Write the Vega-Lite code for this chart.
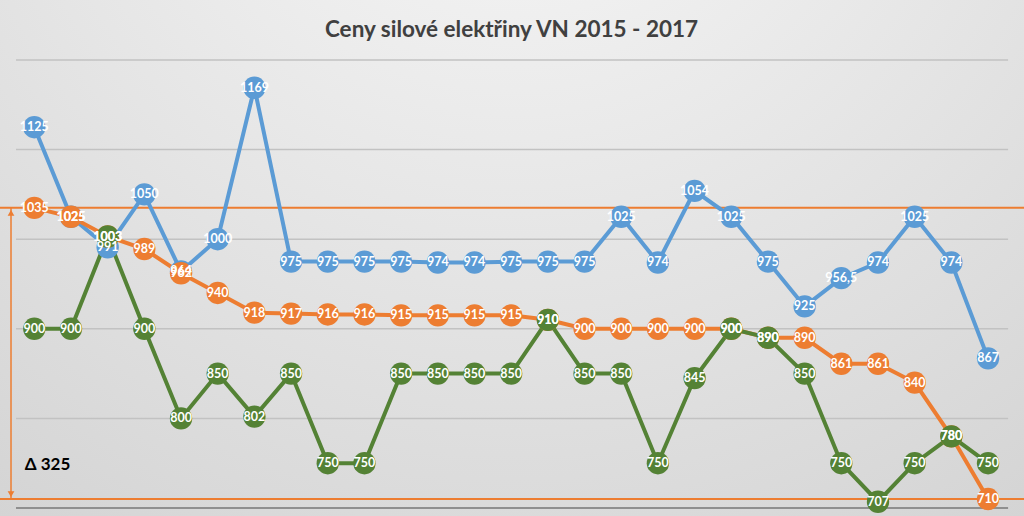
{
  "$schema": "https://vega.github.io/schema/vega-lite/v6.json",
  "autosize": "none",
  "width": 1024,
  "height": 516,
  "padding": 0,
  "background": "#e4e4e4",
  "config": {
    "view": {"stroke": null},
    "locale": {"number": {"decimal": ",", "thousands": " ", "grouping": [3], "currency": ["", " Kč"]}}
  },
  "datasets": {
    "prices": [
      {"i": 0, "blue": 1125, "orange": 1035, "green": 900},
      {"i": 1, "blue": 1025, "orange": 1025, "green": 900},
      {"i": 2, "blue": 991, "orange": 1003, "green": 1003},
      {"i": 3, "blue": 1050, "orange": 989, "green": 900},
      {"i": 4, "blue": 964, "orange": 962, "green": 800},
      {"i": 5, "blue": 1000, "orange": 940, "green": 850},
      {"i": 6, "blue": 1169, "orange": 918, "green": 802},
      {"i": 7, "blue": 975, "orange": 917, "green": 850},
      {"i": 8, "blue": 975, "orange": 916, "green": 750},
      {"i": 9, "blue": 975, "orange": 916, "green": 750},
      {"i": 10, "blue": 975, "orange": 915, "green": 850},
      {"i": 11, "blue": 974, "orange": 915, "green": 850},
      {"i": 12, "blue": 974, "orange": 915, "green": 850},
      {"i": 13, "blue": 975, "orange": 915, "green": 850},
      {"i": 14, "blue": 975, "orange": 910, "green": 910},
      {"i": 15, "blue": 975, "orange": 900, "green": 850},
      {"i": 16, "blue": 1025, "orange": 900, "green": 850},
      {"i": 17, "blue": 974, "orange": 900, "green": 750},
      {"i": 18, "blue": 1054, "orange": 900, "green": 845},
      {"i": 19, "blue": 1025, "orange": 900, "green": 900},
      {"i": 20, "blue": 975, "orange": 890, "green": 890},
      {"i": 21, "blue": 925, "orange": 890, "green": 850},
      {"i": 22, "blue": 956.5, "orange": 861, "green": 750},
      {"i": 23, "blue": 974, "orange": 861, "green": 707},
      {"i": 24, "blue": 1025, "orange": 840, "green": 750},
      {"i": 25, "blue": 974, "orange": 780, "green": 780},
      {"i": 26, "blue": 867, "orange": 710, "green": 750}
    ],
    "grid": [{"g": 800}, {"g": 900}, {"g": 1000}, {"g": 1100}, {"g": 1200}],
    "base": [{"g": 700}],
    "refs": [{"r": 1035}, {"r": 710}],
    "delta": [{"top": 1035, "bottom": 710, "label": "Δ 325"}],
    "title": [{"t": "Ceny silové elektřiny VN 2015 - 2017"}]
  },
  "layer": [
    {
      "data": {"values": [{"a": 1}]},
      "mark": {
        "type": "rect",
        "color": {
          "gradient": "radial",
          "x1": 0.5, "y1": 0, "r1": 0,
          "x2": 0.5, "y2": 0, "r2": 1,
          "stops": [
            {"offset": 0, "color": "#fafafa"},
            {"offset": 0.55, "color": "#e3e3e3"},
            {"offset": 1, "color": "#d0d0d0"}
          ]
        }
      },
      "encoding": {
        "x": {"datum": -0.935, "type": "quantitative", "scale": {"domain": [-0.935, 26.98], "nice": false, "zero": false}, "axis": null},
        "x2": {"datum": 26.98},
        "y": {"datum": 691.07, "type": "quantitative", "scale": {"domain": [691.07, 1266.96], "nice": false, "zero": false}, "axis": null},
        "y2": {"datum": 1266.96}
      }
    },
    {
      "data": {"name": "grid"},
      "mark": {"type": "rule", "color": "#c2c2c2", "strokeWidth": 1.5},
      "encoding": {
        "x": {"datum": -0.499, "type": "quantitative"},
        "x2": {"datum": 26.546},
        "y": {"field": "g", "type": "quantitative"}
      }
    },
    {
      "data": {"name": "base"},
      "mark": {"type": "rule", "color": "#8f8f8f", "strokeWidth": 2},
      "encoding": {
        "x": {"datum": -0.499, "type": "quantitative"},
        "x2": {"datum": 26.546},
        "y": {"field": "g", "type": "quantitative"}
      }
    },
    {
      "data": {"name": "refs"},
      "mark": {"type": "rule", "color": "#ed7d31", "strokeWidth": 2},
      "encoding": {
        "y": {"field": "r", "type": "quantitative"}
      }
    },
    {
      "data": {"name": "delta"},
      "mark": {"type": "rule", "color": "#ed7d31", "strokeWidth": 1.5},
      "encoding": {
        "x": {"datum": -0.635, "type": "quantitative"},
        "y": {"field": "top", "type": "quantitative"},
        "y2": {"field": "bottom"}
      }
    },
    {
      "data": {"name": "delta"},
      "mark": {"type": "point", "shape": "triangle-up", "filled": true, "color": "#ed7d31", "opacity": 1, "size": 45, "yOffset": 5},
      "encoding": {
        "x": {"datum": -0.635, "type": "quantitative"},
        "y": {"field": "top", "type": "quantitative"}
      }
    },
    {
      "data": {"name": "delta"},
      "mark": {"type": "point", "shape": "triangle-down", "filled": true, "color": "#ed7d31", "opacity": 1, "size": 45, "yOffset": -5},
      "encoding": {
        "x": {"datum": -0.635, "type": "quantitative"},
        "y": {"field": "bottom", "type": "quantitative"}
      }
    },
    {
      "data": {"name": "delta"},
      "mark": {"type": "text", "align": "left", "baseline": "middle", "font": "Lato", "fontWeight": "bold", "fontSize": 17, "color": "#000000"},
      "encoding": {
        "x": {"datum": -0.26, "type": "quantitative"},
        "y": {"datum": 748, "type": "quantitative"},
        "text": {"field": "label"}
      }
    },
    {
      "data": {"name": "title"},
      "mark": {"type": "text", "align": "center", "baseline": "middle", "font": "Lato", "fontWeight": "bold", "fontSize": 22.5, "color": "#404040"},
      "encoding": {
        "x": {"datum": 13.01, "type": "quantitative"},
        "y": {"datum": 1234, "type": "quantitative"},
        "text": {"field": "t"}
      }
    },
    {
      "data": {"name": "prices"},
      "transform": [{"fold": ["blue", "orange", "green"], "as": ["series", "v"]}],
      "layer": [
        {
          "mark": {"type": "line", "strokeWidth": 4},
          "encoding": {
            "x": {"field": "i", "type": "quantitative"},
            "y": {"field": "v", "type": "quantitative"},
            "color": {"field": "series", "type": "nominal", "scale": {"domain": ["blue", "orange", "green"], "range": ["#5b9bd5", "#ed7d31", "#548235"]}, "legend": null},
            "order": {"field": "i", "type": "quantitative"}
          }
        },
        {
          "mark": {"type": "point", "filled": true, "opacity": 1, "size": 500},
          "encoding": {
            "x": {"field": "i", "type": "quantitative"},
            "y": {"field": "v", "type": "quantitative"},
            "color": {"field": "series", "type": "nominal", "legend": null}
          }
        },
        {
          "mark": {"type": "text", "color": "white", "font": "Lato", "fontWeight": "bold", "fontSize": 12.5, "align": "center", "baseline": "middle"},
          "encoding": {
            "x": {"field": "i", "type": "quantitative"},
            "y": {"field": "v", "type": "quantitative"},
            "text": {"field": "v", "type": "quantitative", "format": ".1~f"}
          }
        }
      ]
    }
  ]
}
